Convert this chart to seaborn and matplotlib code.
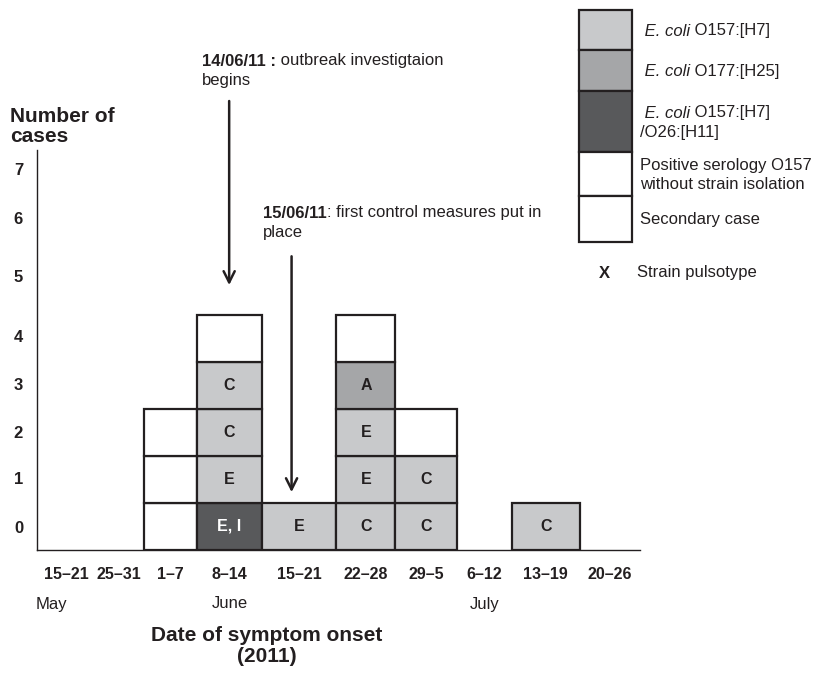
import numpy as np
import matplotlib
matplotlib.use("Agg")
import matplotlib.pyplot as plt
import seaborn as sns

# data
week_labels = ['15–21', '25–31', '1–7', '8–14', '15–21', '22–28', '29–5', '6–12', '13–19', '20–26']
month_labels = ['May', 'June', 'July']

# case types per week, bottom to top
# L = O157:[H7], M = O177:[H25], D = O157:[H7]/O26:[H11], W = serology / secondary
stack_types = [[], [], ['W', 'W', 'W'], ['D', 'L', 'L', 'L', 'W'], ['L'],
               ['L', 'L', 'L', 'M', 'W'], ['L', 'L', 'W'], [], ['L'], []]
stack_letters = [[], [], ['', '', ''], ['E, I', 'E', 'C', 'C', ''], ['E'],
                 ['C', 'E', 'E', 'A', ''], ['C', 'C', ''], [], ['C'], []]

# legend: (italic part, plain part, second line)
legend_italic = [' E. coli', ' E. coli', ' E. coli', '', '']
legend_plain = [' O157:[H7]', ' O177:[H25]', ' O157:[H7]', 'Positive serology O157', 'Secondary case']
legend_line2 = ['', '', '/O26:[H11]', 'without strain isolation', '']
legend_types = ['L', 'M', 'D', 'W', 'W']

colors = {'L': '#c8c9cb', 'M': '#a5a6a8', 'D': '#58595b', 'W': '#ffffff'}
ink = '#231f20'

# layout
col_widths = np.array([0.96, 0.81, 0.88, 1.08, 1.24, 0.98, 1.03, 0.90, 1.13, 1.00])
ytick_pos = [0.49, 1.53, 2.51, 3.53, 4.55, 5.83, 7.06, 8.09]

sns.set_style("white")
plt.rcParams['font.family'] = ['Liberation Sans', 'DejaVu Sans']

W, H = 815, 673
fig = plt.figure(figsize=(W / 100, H / 100), dpi=100)
ax = fig.add_axes([37 / W, 1 - 550 / H, 603 / W, 400 / H])

lefts = np.concatenate([[0], np.cumsum(col_widths)[:-1]])
centers = lefts + col_widths / 2

for i in range(len(week_labels)):
    for j, (t, letter) in enumerate(zip(stack_types[i], stack_letters[i])):
        ax.bar(lefts[i], 1, width=col_widths[i], bottom=j, align='edge',
               color=colors[t], edgecolor=ink, linewidth=1.6, zorder=3)
        if letter:
            ax.text(centers[i], j + 0.5, letter, ha='center', va='center',
                    fontsize=11.5, fontweight='bold',
                    color='white' if t == 'D' else ink, zorder=4)

ax.set_xlim(0, col_widths.sum())
ax.set_ylim(0, 8.5)
sns.despine(ax=ax)
for s in ['left', 'bottom']:
    ax.spines[s].set_color(ink)
    ax.spines[s].set_linewidth(1.0)

ax.set_xticks(centers)
ax.set_xticklabels(week_labels, fontsize=11.5, fontweight='bold', color=ink)
ax.set_yticks(ytick_pos)
ax.set_yticklabels([str(k) for k in range(8)], fontsize=12, fontweight='bold', color=ink)
ax.tick_params(axis='both', length=0)
ax.tick_params(axis='x', pad=12)
ax.tick_params(axis='y', pad=10)

# arrows
ax.annotate('', xy=(centers[3], 5.57), xytext=(centers[3], 9.6),
            arrowprops=dict(arrowstyle='->,head_length=0.8,head_width=0.4', lw=1.8, color=ink),
            annotation_clip=False)
x2 = lefts[4] + 0.4 * col_widths[4]
ax.annotate('', xy=(x2, 1.17), xytext=(x2, 6.3),
            arrowprops=dict(arrowstyle='->,head_length=0.8,head_width=0.4', lw=1.8, color=ink),
            annotation_clip=False)


def fx(px):
    return px / W


def fy(py):
    return 1 - py / H


def mixed(x, y, first, rest, first_kw, size=12):
    # first part in its own style, rest follows on the same line
    t = fig.text(fx(x), fy(y), first, fontsize=size, color=ink, va='center', ha='left', **first_kw)
    ax.annotate(rest, xy=(1, 0.5), xycoords=t, va='center', ha='left',
                fontsize=size, color=ink, annotation_clip=False)
    return t


mixed(202, 61, '14/06/11 :', ' outbreak investigtaion', dict(fontweight='bold'))
fig.text(fx(202), fy(81), 'begins', fontsize=12, color=ink, va='center', ha='left')
mixed(263, 213, '15/06/11', ': first control measures put in', dict(fontweight='bold'))
fig.text(fx(263), fy(232), 'place', fontsize=12, color=ink, va='center', ha='left')

fig.text(fx(10), fy(107), 'Number of\ncases', fontsize=15, fontweight='bold',
         color=ink, va='top', ha='left', linespacing=1.05)
fig.text(fx(267), fy(626), 'Date of symptom onset\n(2011)', fontsize=15, fontweight='bold',
         color=ink, va='top', ha='center', multialignment='center', linespacing=1.15)

for lab, px in zip(month_labels, [36, 212, 470]):
    fig.text(fx(px), fy(604), lab, fontsize=12, color=ink, va='center', ha='left')

# legend boxes
row_h = [40, 41, 61, 44, 46]
lax = fig.add_axes([579 / W, 1 - 242 / H, 53 / W, 232 / H])
lax.set_xlim(0, 53)
lax.set_ylim(sum(row_h), 0)
lax.axis('off')
top = 10
for t, it, pl, l2, h in zip(legend_types, legend_italic, legend_plain, legend_line2, row_h):
    lax.add_patch(plt.Rectangle((0, top - 10), 53, h, facecolor=colors[t], edgecolor=ink,
                                linewidth=1.6, clip_on=False))
    yc = top + h / 2 + 1
    y1 = yc - 9.5 if l2 else yc
    if it:
        mixed(640, y1, it, pl, dict(fontstyle='italic'))
    else:
        fig.text(fx(640), fy(y1), pl, fontsize=12, color=ink, va='center', ha='left')
    if l2:
        fig.text(fx(640), fy(y1 + 19), l2, fontsize=12, color=ink, va='center', ha='left')
    top += h

fig.text(fx(604), fy(273), 'X', fontsize=12, fontweight='bold', color=ink, va='center', ha='center')
fig.text(fx(637), fy(273), 'Strain pulsotype', fontsize=12, color=ink, va='center', ha='left')

fig.savefig('out.png', dpi=100)
